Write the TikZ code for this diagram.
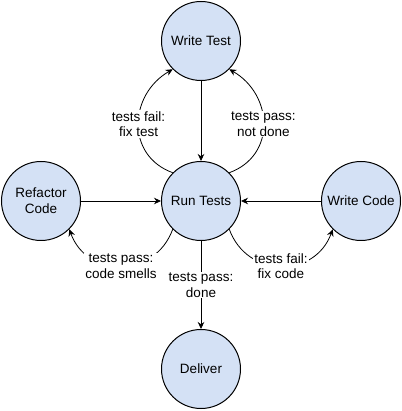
\documentclass[tikz,border=0pt]{standalone}
\usepackage{fontspec}
\setmainfont{Liberation Sans}
\usepackage{xcolor}
\definecolor{StateFill}{HTML}{D4E1F5}
\usetikzlibrary{arrows.meta,positioning}
\begin{document}
\begin{tikzpicture}[
  x=1pt,y=1pt,
  node distance=80pt,
  state/.style={circle,draw=black,fill=StateFill,line width=1pt,minimum size=79pt,inner sep=0pt,align=center,font=\fontsize{13.5}{16}\selectfont},
  flow/.style={-{Stealth[length=7pt,width=6.5pt]},line width=0.8pt,draw=black},
  tag/.style={fill=white,inner sep=1pt,align=center,font=\fontsize{13.5}{15.5}\selectfont}
]
\useasboundingbox (0,0) rectangle (401,411);
\node[state] (run) at (201,210) {Run Tests};
\node[state,above=of run] (test) {Write Test};
\node[state,left=of run] (refactor) {Refactor\\Code};
\node[state,right=of run] (code) {Write Code};
\node[state,below=88pt of run] (deliver) {Deliver};
\draw[flow] (test) -- (run);
\draw[flow] (refactor) -- (run);
\draw[flow] (code) -- (run);
\draw[flow] (run) -- node[tag] {tests pass:\\done} (deliver);
\draw[flow] (run.135) to[out=160,in=210,looseness=1.25] node[tag] {tests fail:\\fix test} (test.225);
\draw[flow] (run.45) to[out=20,in=330,looseness=1.25] node[tag] {tests pass:\\not done} (test.315);
\draw[flow] (run.225) to[out=250,in=290,looseness=1.3] node[tag] {tests pass:\\code smells} (refactor.315);
\draw[flow] (run.315) to[out=290,in=250,looseness=1.3] node[tag] {tests fail:\\fix code} (code.225);
\end{tikzpicture}
\end{document}
